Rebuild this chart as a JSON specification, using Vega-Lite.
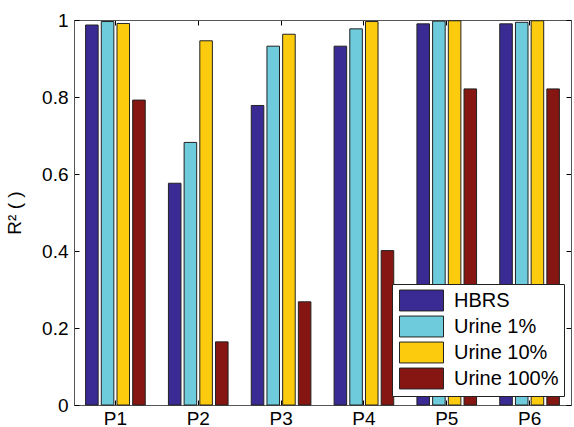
{
  "$schema": "https://vega.github.io/schema/vega-lite/v6.json",
  "width": 497,
  "height": 385,
  "autosize": "none",
  "padding": {"left": 74, "top": 20, "right": 3, "bottom": 22},
  "config": {
    "font": "Liberation Sans",
    "view": {"stroke": "#555", "strokeWidth": 1}
  },
  "data": {
    "values": [
      {"p": "P1", "s": "HBRS", "v": 0.987},
      {"p": "P1", "s": "Urine 1%", "v": 0.996},
      {"p": "P1", "s": "Urine 10%", "v": 0.991},
      {"p": "P1", "s": "Urine 100%", "v": 0.792},
      {"p": "P2", "s": "HBRS", "v": 0.576},
      {"p": "P2", "s": "Urine 1%", "v": 0.682},
      {"p": "P2", "s": "Urine 10%", "v": 0.946},
      {"p": "P2", "s": "Urine 100%", "v": 0.164},
      {"p": "P3", "s": "HBRS", "v": 0.778},
      {"p": "P3", "s": "Urine 1%", "v": 0.932},
      {"p": "P3", "s": "Urine 10%", "v": 0.963},
      {"p": "P3", "s": "Urine 100%", "v": 0.268},
      {"p": "P4", "s": "HBRS", "v": 0.932},
      {"p": "P4", "s": "Urine 1%", "v": 0.977},
      {"p": "P4", "s": "Urine 10%", "v": 0.996},
      {"p": "P4", "s": "Urine 100%", "v": 0.401},
      {"p": "P5", "s": "HBRS", "v": 0.99},
      {"p": "P5", "s": "Urine 1%", "v": 0.997},
      {"p": "P5", "s": "Urine 10%", "v": 0.998},
      {"p": "P5", "s": "Urine 100%", "v": 0.821},
      {"p": "P6", "s": "HBRS", "v": 0.99},
      {"p": "P6", "s": "Urine 1%", "v": 0.994},
      {"p": "P6", "s": "Urine 10%", "v": 0.998},
      {"p": "P6", "s": "Urine 100%", "v": 0.821}
    ]
  },
  "layer": [
    {
      "mark": {"type": "bar", "stroke": "#222", "strokeWidth": 1},
      "encoding": {
        "x": {
          "field": "p", "type": "nominal",
          "scale": {"paddingInner": 0.28, "paddingOuter": 0.14},
          "axis": {
            "title": null, "labelAngle": 0, "labelFontSize": 19, "labelColor": "#000",
            "tickSize": -5, "tickColor": "#000", "domainColor": "#555",
            "labelPadding": 9
          }
        },
        "xOffset": {
          "field": "s", "type": "nominal",
          "sort": ["HBRS", "Urine 1%", "Urine 10%", "Urine 100%"],
          "scale": {"paddingInner": 0.2, "paddingOuter": 0}
        },
        "y": {
          "field": "v", "type": "quantitative",
          "scale": {"domain": [0, 1]},
          "axis": {
            "values": [0, 0.2, 0.4, 0.6, 0.8, 1], "format": "~g", "grid": false,
            "tickSize": -5, "tickColor": "#000", "domainColor": "#555",
            "labelFontSize": 19, "labelColor": "#000", "labelPadding": 11,
            "title": "R² ( )", "titleFontSize": 19, "titleFontWeight": "normal",
            "titleColor": "#000", "titlePadding": 17
          }
        },
        "color": {
          "field": "s", "type": "nominal",
          "sort": ["HBRS", "Urine 1%", "Urine 10%", "Urine 100%"],
          "scale": {
            "domain": ["HBRS", "Urine 1%", "Urine 10%", "Urine 100%"],
            "range": ["#3a2b94", "#6dcbdc", "#fccb0e", "#861611"]
          },
          "legend": {
            "title": null, "orient": "none", "legendX": 318, "legendY": 264,
            "fillColor": "#fff", "strokeColor": "#222", "padding": 5,
            "labelFontSize": 20, "labelColor": "#000",
            "symbolType": "M-2,-0.95H2V0.95H-2Z", "symbolSize": 484,
            "symbolStrokeColor": "#222", "symbolStrokeWidth": 1, "symbolOpacity": 1,
            "symbolOffset": 13, "labelOffset": 21, "rowPadding": 1
          }
        }
      }
    },
    {
      "mark": {"type": "bar", "opacity": 0},
      "encoding": {
        "x": {
          "field": "p", "type": "nominal",
          "axis": {"orient": "top", "title": null, "labels": false, "tickSize": -5, "tickColor": "#000", "domainColor": "#555"}
        },
        "y": {
          "field": "v", "type": "quantitative",
          "axis": {"orient": "right", "title": null, "labels": false, "values": [0, 0.2, 0.4, 0.6, 0.8, 1], "grid": false, "tickSize": -5, "tickColor": "#000", "domainColor": "#555"}
        }
      }
    }
  ],
  "resolve": {"axis": {"x": "independent", "y": "independent"}}
}
